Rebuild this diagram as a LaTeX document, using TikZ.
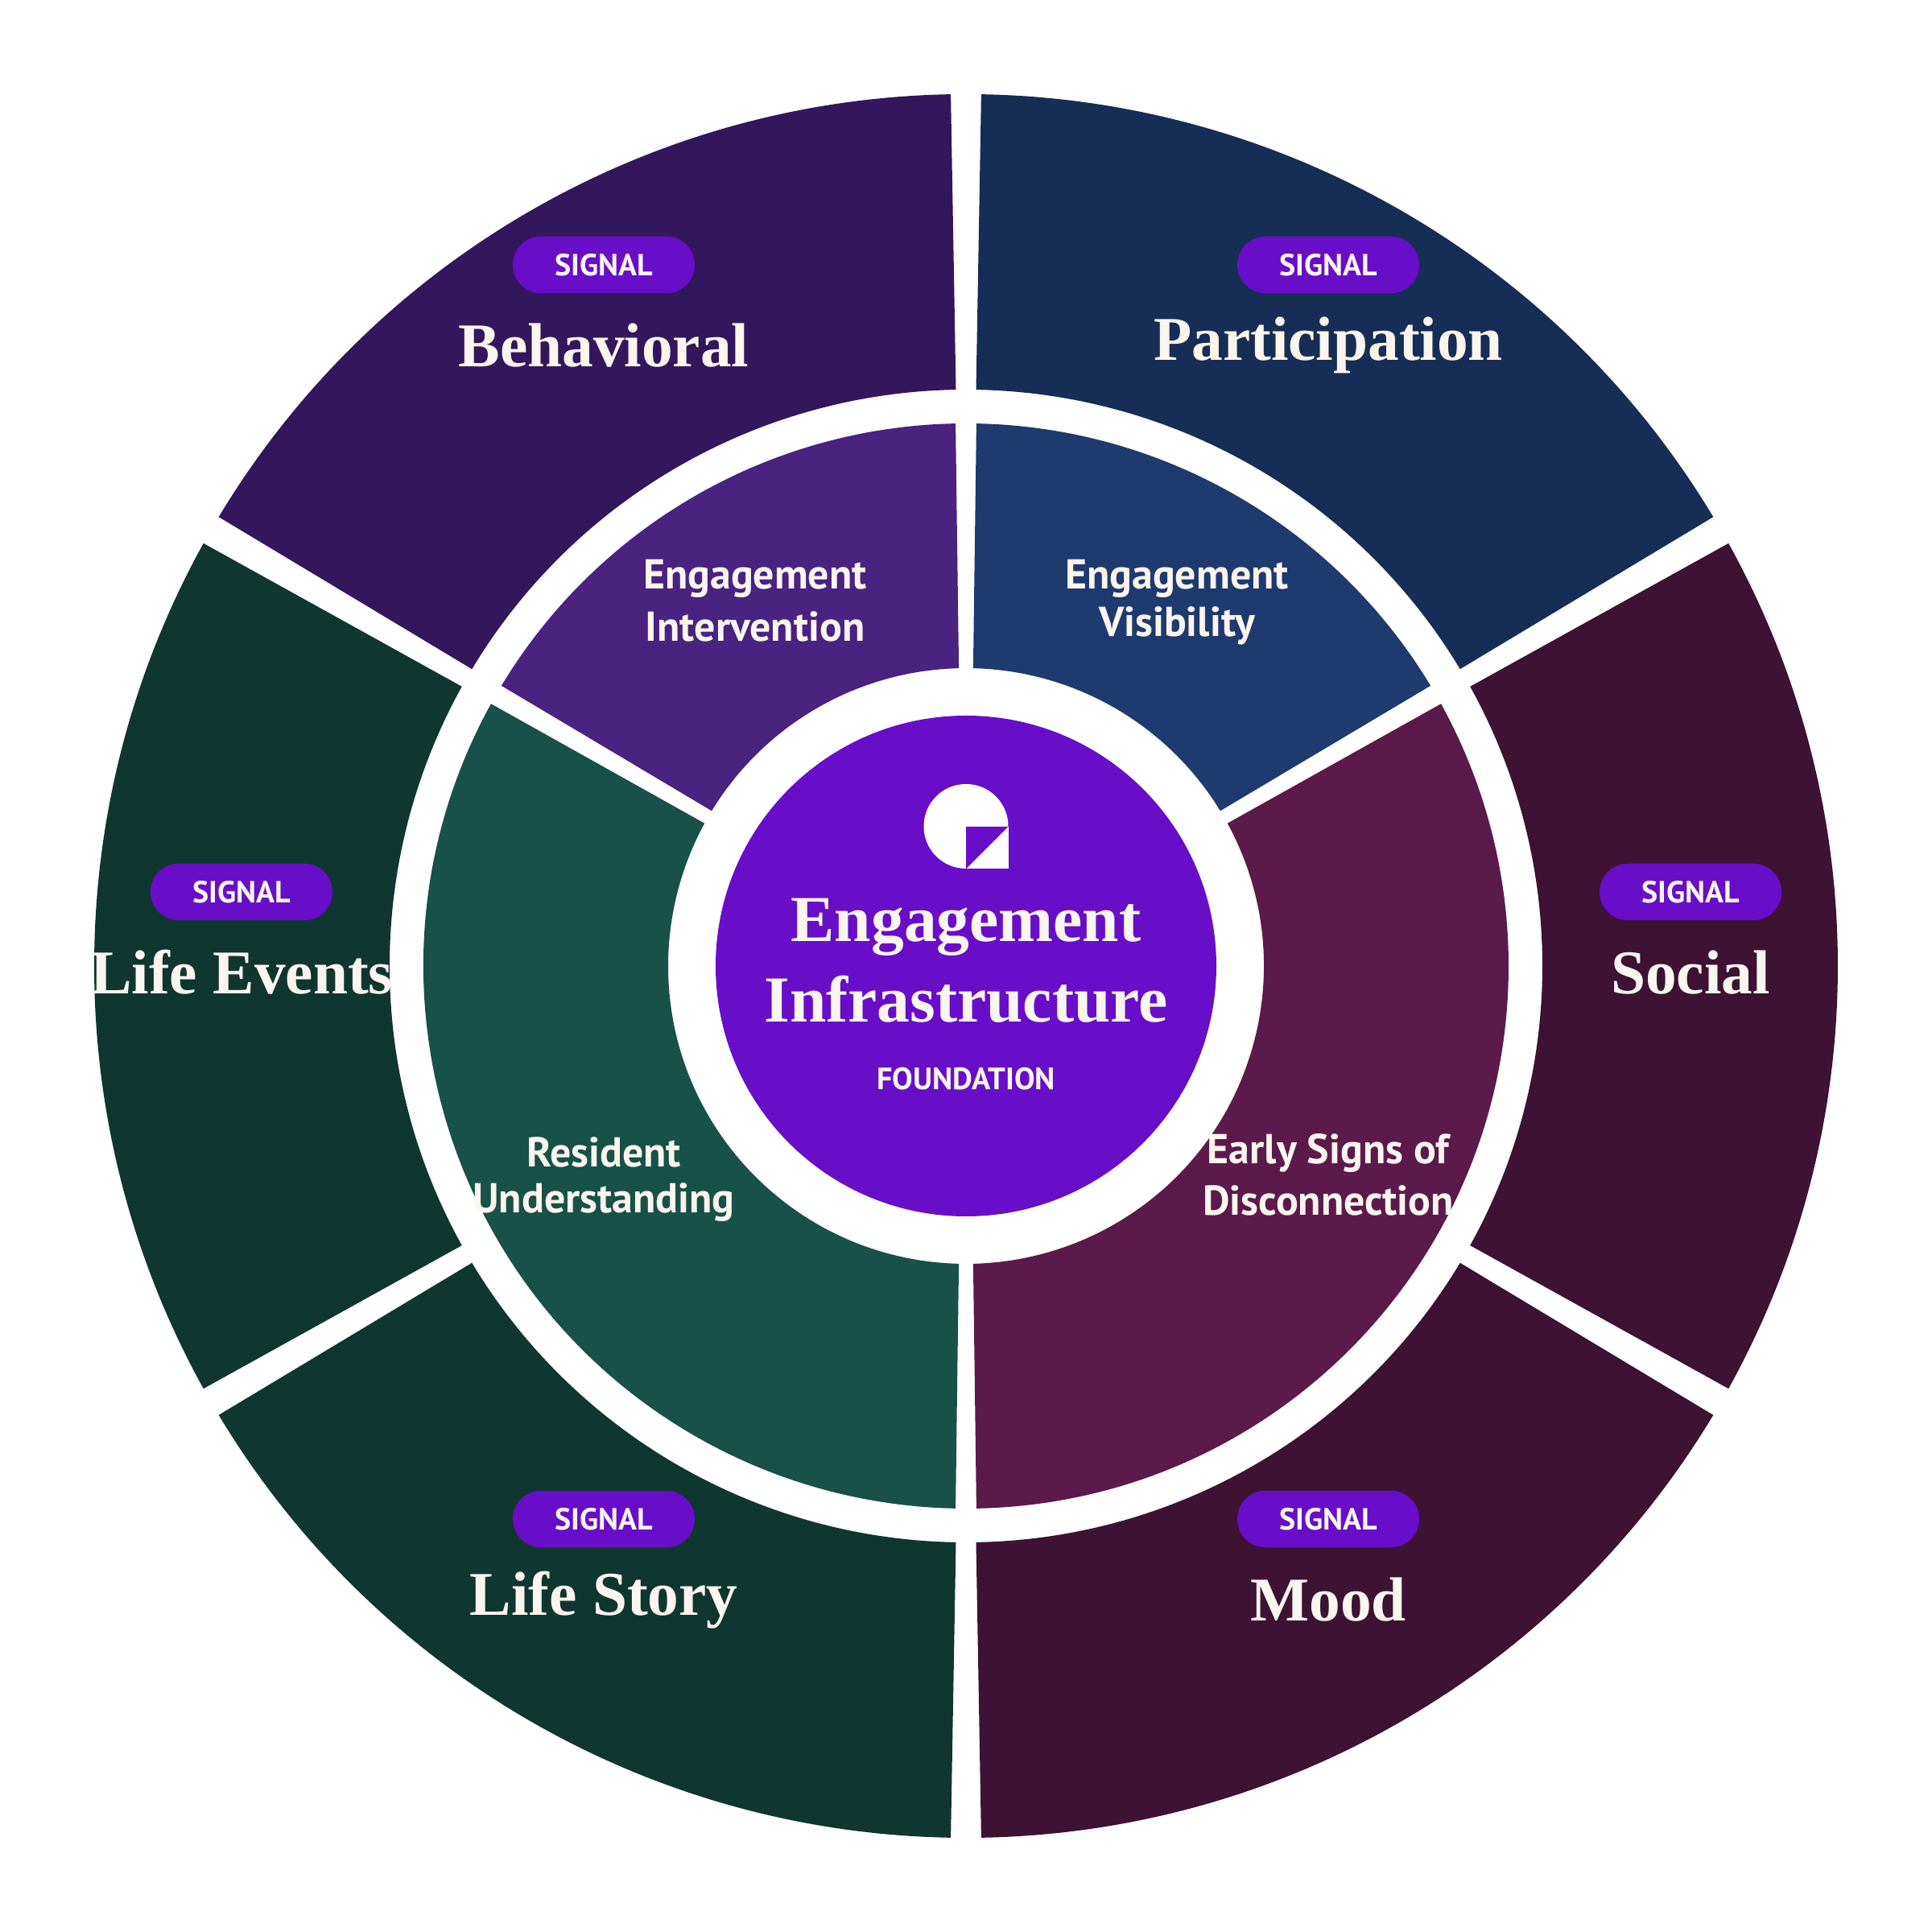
\documentclass[tikz,border=0pt]{standalone}
\usepackage{fontspec}
\setmainfont{Liberation Serif}
\setsansfont{PT Sans}
\usetikzlibrary{positioning}
\definecolor{core}{HTML}{680EC8}
\definecolor{cream}{HTML}{FAF5EE}
\definecolor{outerviolet}{HTML}{33175C}
\definecolor{outernavy}{HTML}{162D55}
\definecolor{outerplum}{HTML}{3D1233}
\definecolor{outerforest}{HTML}{103630}
\definecolor{innerviolet}{HTML}{4A2280}
\definecolor{innernavy}{HTML}{1E3A6E}
\definecolor{innerplum}{HTML}{5C1A4A}
\definecolor{innerforest}{HTML}{185147}

\begin{document}
\begin{tikzpicture}
\tikzset{
  pill/.style={
    fill=core,
    rounded corners=3.5mm,
    minimum width=22.6mm,
    minimum height=7.05mm,
    inner sep=0pt,
    text=cream,
    font=\sffamily\bfseries\fontsize{10.8pt}{12pt}\selectfont,
  },
  title/.style={anchor=base, text=cream, inner sep=0pt, font=\rmfamily\bfseries\fontsize{22pt}{26pt}\selectfont},
  ringlabel/.style={anchor=base, text=cream, inner sep=0pt, font=\sffamily\bfseries\fontsize{14.75pt}{16pt}\selectfont},
  coretitle/.style={anchor=base, text=cream, inner sep=0pt, font=\rmfamily\bfseries\fontsize{23.2pt}{28pt}\selectfont},
}
\useasboundingbox (-12,-12) rectangle (12,12);
% outer ring
\fill[outerviolet] (91:10.83) arc (91:149:10.83) -- (149:7.16) arc (149:91:7.16) -- cycle;
\fill[outernavy] (31:10.83) arc (31:89:10.83) -- (89:7.16) arc (89:31:7.16) -- cycle;
\fill[outerplum] (-29:10.83) arc (-29:29:10.83) -- (29:7.16) arc (29:-29:7.16) -- cycle;
\fill[outerplum] (-89:10.83) arc (-89:-31:10.83) -- (-31:7.16) arc (-31:-89:7.16) -- cycle;
\fill[outerforest] (211:10.83) arc (211:269:10.83) -- (269:7.16) arc (269:211:7.16) -- cycle;
\fill[outerforest] (151:10.83) arc (151:209:10.83) -- (209:7.16) arc (209:151:7.16) -- cycle;
% middle ring
\fill[innerviolet] (91.1:6.74) arc (91.1:148.9:6.74) -- (148.62:3.7) arc (148.62:91.38:3.7) -- cycle;
\fill[innernavy] (31.1:6.74) arc (31.1:88.9:6.74) -- (88.62:3.7) arc (88.62:31.38:3.7) -- cycle;
\fill[innerplum] (-88.9:6.74) arc (-88.9:28.9:6.74) -- (28.62:3.7) arc (28.62:-88.62:3.7) -- cycle;
\fill[innerforest] (151.1:6.74) arc (151.1:268.9:6.74) -- (268.62:3.7) arc (268.62:151.38:3.7) -- cycle;
% centre
\fill[core] (0,0) circle (3.11);
\fill[white] (0,1.21) arc (-90:180:0.525) arc (180:270:0.525) -- cycle;
\fill[white] (0,1.73) rectangle (0.525,1.205);
\fill[core] (0,1.73) -- (0.525,1.73) -- (0,1.205) -- cycle;
\node[coretitle] (coreA) at (0,0.3) {Engagement};
\node[coretitle] (coreB) at (0,-0.7) {Infrastructure};
\node[anchor=base, text=cream, inner sep=0pt, font=\sffamily\bfseries\fontsize{10.9pt}{13pt}\selectfont] (coreC) at (0,-1.535) {FOUNDATION};
% signals
\node[pill] (pillA) at (-4.5,8.71) {SIGNAL};
\node[pill] (pillB) at (4.5,8.71) {SIGNAL};
\node[pill] (pillC) at (9.0,0.92) {SIGNAL};
\node[pill] (pillD) at (4.5,-6.87) {SIGNAL};
\node[pill] (pillE) at (-4.5,-6.87) {SIGNAL};
\node[pill] (pillF) at (-9.0,0.92) {SIGNAL};
\node[title] (outerA) at (-4.5,7.44) {Behavioral};
\node[title] (outerB) at (4.5,7.52) {Participation};
\node[title] (outerC) at (9.0,-0.35) {Social};
\node[title] (outerD) at (4.5,-8.13) {Mood};
\node[title] (outerE) at (-4.5,-8.06) {Life Story};
\node[title] (outerF) at (-9.0,-0.35) {Life Events};
% ring labels
\node[ringlabel] (ringA) at (-2.62,4.68) {Engagement};
\node[ringlabel] (ringAb) at (-2.62,4.03) {Intervention};
\node[ringlabel] (ringB) at (2.62,4.68) {Engagement};
\node[ringlabel] (ringBb) at (2.62,4.09) {Visibility};
\node[ringlabel] (ringC) at (4.5,-2.46) {Early Signs of};
\node[ringlabel] (ringCb) at (4.5,-3.1) {Disconnection};
\node[ringlabel] (ringD) at (-4.5,-2.5) {Resident};
\node[ringlabel] (ringDb) at (-4.5,-3.07) {Understanding};
\end{tikzpicture}
\end{document}
